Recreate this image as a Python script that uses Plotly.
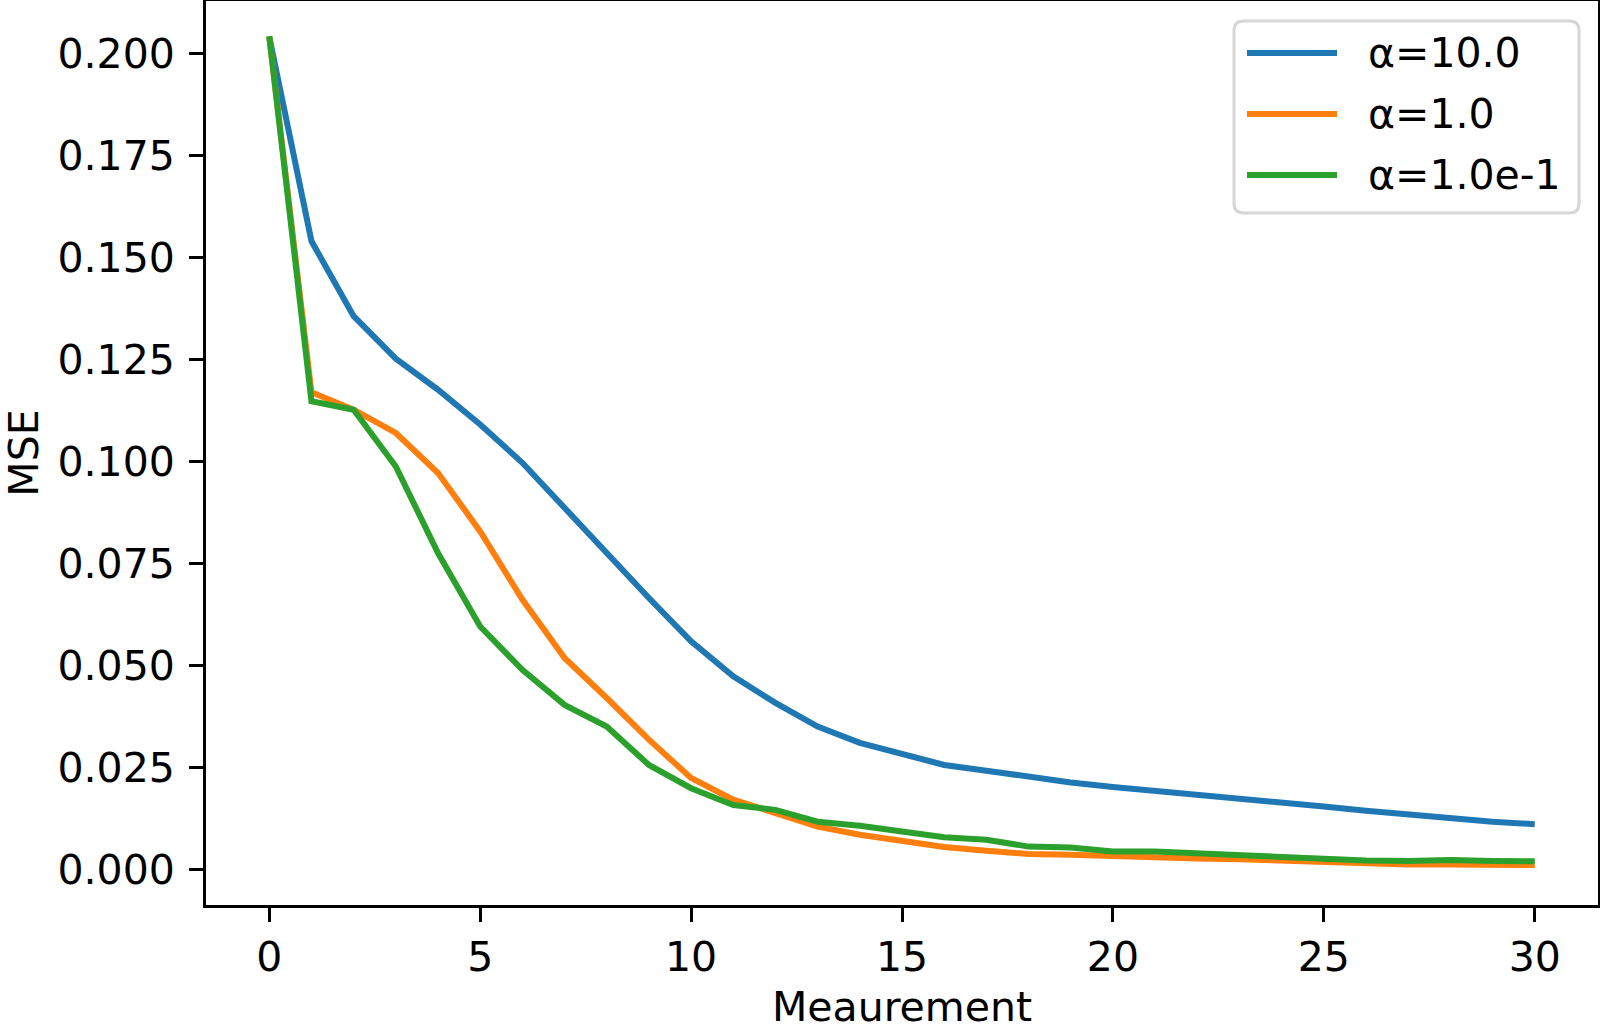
import plotly.graph_objects as go

# ── Data ──────────────────────────────────────────────────────────────────────
measurement = list(range(31))

mse_alpha_10 = [
    0.2040, 0.1540, 0.1356, 0.1252, 0.1176, 0.1091, 0.0997, 0.0886, 0.0772,
    0.0666, 0.0560, 0.0474, 0.0409, 0.0351, 0.0311, 0.0284, 0.0257, 0.0243,
    0.0227, 0.0214, 0.0203, 0.0194, 0.0184, 0.0173, 0.0165, 0.0155, 0.0145,
    0.0135, 0.0125, 0.0118, 0.0112,
]
mse_alpha_1 = [
    0.2040, 0.1170, 0.1127, 0.1070, 0.0972, 0.0829, 0.0662, 0.0519, 0.0421,
    0.0319, 0.0225, 0.0172, 0.0139, 0.0106, 0.0086, 0.0071, 0.0056, 0.0047,
    0.0039, 0.0037, 0.0033, 0.0029, 0.0028, 0.0026, 0.0022, 0.0018, 0.0015,
    0.0013, 0.0013, 0.0012, 0.0012,
]
mse_alpha_01 = [
    0.2042, 0.1148, 0.1127, 0.0988, 0.0776, 0.0596, 0.0490, 0.0404, 0.0351,
    0.0257, 0.0200, 0.0159, 0.0147, 0.0118, 0.0108, 0.0094, 0.0080, 0.0074,
    0.0057, 0.0055, 0.0045, 0.0045, 0.0041, 0.0037, 0.0031, 0.0026, 0.0023,
    0.0022, 0.0024, 0.0022, 0.0021,
]

series_names = ["α=10.0", "α=1.0", "α=1.0e-1"]
series_values = [mse_alpha_10, mse_alpha_1, mse_alpha_01]
colors = ["#1f77b4", "#ff7f0e", "#2ca02c"]

x_ticks = [0, 5, 10, 15, 20, 25, 30]
y_ticks = [0.000, 0.025, 0.050, 0.075, 0.100, 0.125, 0.150, 0.175, 0.200]
y_ticktext = [f"{v:.3f}" for v in y_ticks]

# ── Layout geometry (pixels in a 1600x1031 canvas) ────────────────────────────
W, H = 1600, 1031
PL, PR, PT, PB = 206, 1598, 1, 905   # plot area edges
FONT = "DejaVu Sans"
FS = 41


def px_x(px):
    return (px - PL) / (PR - PL)


def px_y(py):
    return (PB - py) / (PB - PT)


fig = go.Figure()
for name, vals, col in zip(series_names, series_values, colors):
    fig.add_trace(go.Scatter(
        x=measurement, y=vals, mode="lines", name=name,
        line=dict(color=col, width=6), showlegend=False,
    ))

# hand-drawn legend, matplotlib style (long line samples, rounded frame)
x0, y0, x1, y1 = px_x(1234), px_y(21), px_x(1579), px_y(213)
r = 0.007
shapes = [dict(
    type="path", xref="paper", yref="paper",
    path=(f"M{x0 + r},{y0} L{x1 - r},{y0} Q{x1},{y0} {x1},{y0 - r * 1.5} "
          f"L{x1},{y1 + r * 1.5} Q{x1},{y1} {x1 - r},{y1} "
          f"L{x0 + r},{y1} Q{x0},{y1} {x0},{y1 + r * 1.5} "
          f"L{x0},{y0 - r * 1.5} Q{x0},{y0} {x0 + r},{y0} Z"),
    line=dict(color="#d6d6d6", width=3), fillcolor="rgba(255,255,255,0.8)",
    layer="above",
)]
annotations = []
for i, (name, col) in enumerate(zip(series_names, colors)):
    yc = px_y(53 + i * 61)
    shapes.append(dict(
        type="line", xref="paper", yref="paper",
        x0=px_x(1247), x1=px_x(1337), y0=yc, y1=yc,
        line=dict(color=col, width=6), layer="above",
    ))
    annotations.append(dict(
        xref="paper", yref="paper", x=px_x(1366), y=yc,
        text=name, showarrow=False, xanchor="left", yanchor="middle",
        font=dict(family=FONT, size=FS, color="black"),
    ))

fig.update_layout(
    width=W, height=H,
    margin=dict(l=PL, r=W - PR, t=PT, b=H - PB, pad=0),
    paper_bgcolor="white", plot_bgcolor="white",
    font=dict(family=FONT, size=FS, color="black"),
    shapes=shapes, annotations=annotations,
)
fig.update_xaxes(
    range=[-1.5, 31.5], tickmode="array", tickvals=x_ticks,
    ticks="outside", ticklen=14, tickwidth=3, tickcolor="black",
    showline=True, linewidth=3, linecolor="black", mirror=True,
    showgrid=False, zeroline=False, automargin=False,
    title=dict(text="Meaurement", standoff=17, font=dict(size=FS)),
)
fig.update_yaxes(
    range=[-0.0086, 0.2128], tickmode="array", tickvals=y_ticks,
    ticktext=y_ticktext, ticklabelstandoff=6,
    ticks="outside", ticklen=14, tickwidth=3, tickcolor="black",
    showline=True, linewidth=3, linecolor="black", mirror=True,
    showgrid=False, zeroline=False, automargin=False,
    title=dict(text="MSE", standoff=18, font=dict(size=FS)),
)

# drop the browser's default 8px body margin so the figure sits at (0, 0)
fig.write_html("out.html", config={"displayModeBar": False},
               post_script="document.body.style.margin = '0';")
